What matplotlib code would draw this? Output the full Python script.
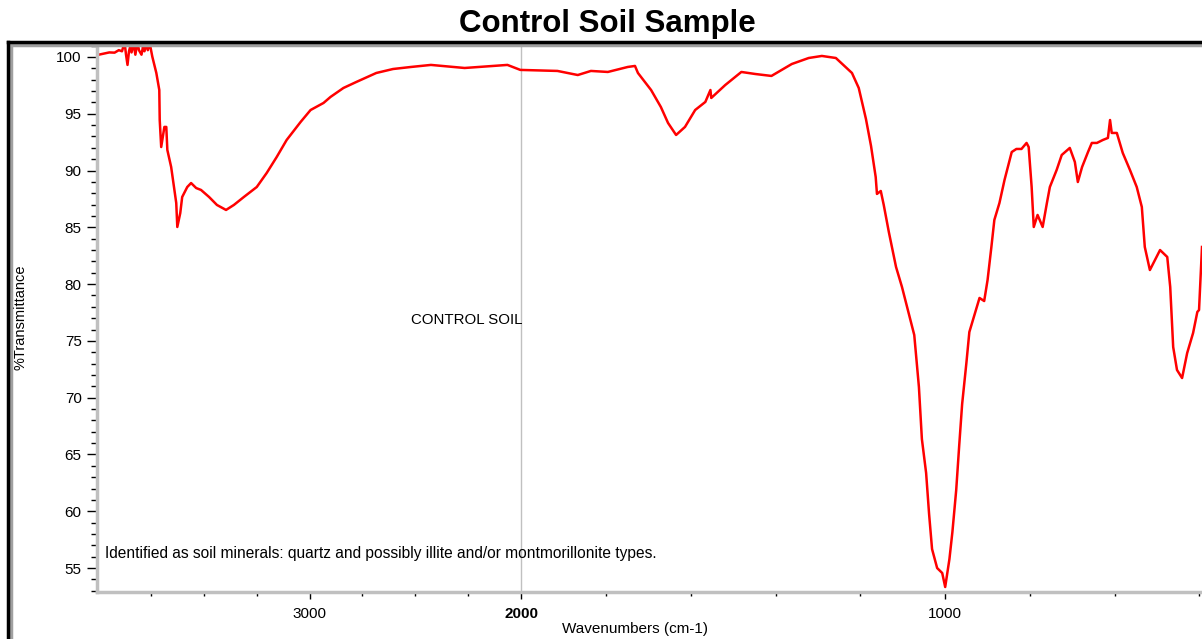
import numpy as np
import matplotlib
matplotlib.use("Agg")
import matplotlib.pyplot as plt
from matplotlib.lines import Line2D
from matplotlib.ticker import FixedLocator, MultipleLocator

plt.rcParams['font.family'] = ['Liberation Sans', 'DejaVu Sans']

# FTIR spectrum (wavenumber cm-1, %T)
wavenumber = [4000, 3970, 3945, 3920, 3900, 3885, 3873, 3866, 3859, 3852, 3845, 3840,
              3830, 3822, 3812, 3805, 3793, 3786, 3779, 3770, 3763, 3756, 3750, 3742,
              3723, 3709,
              3707, 3700, 3685, 3676, 3671, 3653, 3638, 3629, 3624, 3610, 3601, 3577,
              3559, 3535, 3512, 3474, 3437, 3394, 3357, 3310, 3249, 3202, 3155, 3108,
              3042, 2995, 2934, 2901, 2840, 2779, 2685, 2606, 2521, 2427, 2268, 2066,
              2005, 1915, 1867, 1836, 1796, 1749, 1732, 1725, 1694, 1671, 1654, 1635,
              1614, 1590, 1566, 1554, 1552, 1519, 1481, 1448, 1410, 1362, 1322, 1291,
              1258, 1220, 1204, 1187, 1175, 1164, 1161, 1152, 1145, 1133, 1116, 1102,
              1085, 1073, 1062, 1055, 1045, 1038, 1031, 1019, 1007, 1000, 990, 983,
              974, 967, 960, 950, 943, 931, 919, 908, 900, 891, 884, 872, 860, 843,
              832, 820, 808, 803, 796, 791, 782, 770, 760, 753, 737, 725, 706, 694,
              687, 677, 663, 654, 642, 628, 616, 611, 607, 595, 581, 564, 548, 536,
              529, 517, 505, 493, 476, 469, 462, 453, 441, 429, 415, 405, 401, 394]
transmittance = [100.18, 100.3, 100.4, 100.38, 100.6, 100.5, 101.3, 100.2, 99.3, 100.5,
                 101.0, 100.4, 101.2, 100.2, 101.3, 100.6, 100.2, 100.9, 100.5, 101.1,
                 100.6, 101.2, 100.8, 100.03, 98.59, 97.09,
                 94.45, 92.07, 93.84, 93.84, 91.81, 90.31, 88.29,
                 87.14, 85.03, 86.26, 87.67, 88.55, 88.90, 88.46, 88.29, 87.67, 86.97,
                 86.53, 86.97, 87.67, 88.55, 89.79, 91.19, 92.69, 94.28, 95.33, 95.95,
                 96.48, 97.27, 97.80, 98.59, 98.94, 99.12, 99.30, 99.03, 99.30, 98.86,
                 98.77, 98.41, 98.77, 98.68, 99.12, 99.21, 98.59, 97.09, 95.60, 94.19,
                 93.13, 93.84, 95.33, 96.04, 97.09, 96.39, 97.53, 98.68, 98.50, 98.33,
                 99.38, 99.91, 100.09, 99.91, 98.59, 97.27, 94.54, 92.16, 89.43, 87.94,
                 88.20, 86.97, 84.59, 81.51, 79.75, 77.28, 75.52, 70.94, 66.36, 63.37,
                 59.76, 56.67, 55.00, 54.56, 53.33, 55.79, 58.17, 61.87, 65.75, 69.44,
                 73.05, 75.78, 77.28, 78.78, 78.51, 80.36, 83.27, 85.65, 87.14, 89.17,
                 91.63, 91.90, 91.90, 92.43, 92.07, 88.55, 85.03, 86.09, 85.03, 87.14,
                 88.55, 90.05, 91.37, 91.99, 90.75, 88.99, 90.31, 91.63, 92.43, 92.43,
                 92.69, 92.87, 94.45, 93.31, 93.31, 91.55, 90.05, 88.55, 86.79, 83.27,
                 81.24, 82.12, 83.00, 82.39, 79.75, 74.46, 72.44, 71.73, 73.93, 75.70,
                 77.55, 77.72, 83.27]

x_major = [3000, 2000, 1000]
x_minor = [3750, 3500, 3250, 2750, 2500, 2250, 1800, 1600, 1400, 1200, 800, 600, 400]


# OMNIC style split axis: above 2000 cm-1 is compressed to half scale
def fwd(w):
    w = np.asarray(w, dtype=float)
    return np.where(w > 2000, 2000 + (w - 2000) * 0.5, w)


def inv(u):
    u = np.asarray(u, dtype=float)
    return np.where(u > 2000, 2000 + (u - 2000) * 2.0, u)


fig = plt.figure(figsize=(12.02, 6.39), dpi=100)
ax = fig.add_axes([97 / 1202, 1 - 592 / 639, 1 - 97 / 1202, (592 - 43) / 639])

ax.set_xscale('function', functions=(fwd, inv))
ax.plot(wavenumber, transmittance, color='#ff0000', lw=1.8)
ax.axvline(2000, color='#c0c0c0', lw=1, zorder=0)
ax.set_xlim(4003, 394)
ax.set_ylim(52.89, 101.23)

ax.xaxis.set_major_locator(FixedLocator(x_major))
ax.xaxis.set_minor_locator(FixedLocator(x_minor))
ax.set_xticklabels([str(v) for v in x_major])
ax.get_xticklabels()[1].set_fontweight('bold')
ax.yaxis.set_major_locator(MultipleLocator(5))
ax.yaxis.set_minor_locator(MultipleLocator(1))

for s in ['top', 'right']:
    ax.spines[s].set_visible(False)
for s in ['left', 'bottom']:
    ax.spines[s].set_color('#c0c0c0')
    ax.spines[s].set_linewidth(2.5)

ax.tick_params(axis='y', which='major', length=7, width=1, color='black', labelsize=11, pad=4)
ax.tick_params(axis='y', which='minor', length=4, width=1, color='black')
ax.tick_params(axis='x', which='major', length=5, width=1, color='black', labelsize=11, pad=6)
ax.tick_params(axis='x', which='minor', length=3, width=1, color='black')

ax.set_ylabel('%Transmittance', fontsize=10.5)
ax.yaxis.set_label_coords(-0.0625, 0.5)
ax.set_xlabel('Wavenumbers (cm-1)', fontsize=11)
ax.xaxis.set_label_coords(0.487, -0.055)

ax.text(2521, 76.8, 'CONTROL SOIL', fontsize=10.8, va='center', ha='left')
ax.text(3967, 56.3, 'Identified as soil minerals: quartz and possibly illite and/or '
        'montmorillonite types.', fontsize=11.2, va='center', ha='left')

fig.text(607 / 1202, 1 - 24 / 639, 'Control Soil Sample', fontsize=22.5, fontweight='bold',
         ha='center', va='center')

# outer frame with gray shadow
fx, fy = 8 / 1202, 1 - 42 / 639
fig.add_artist(Line2D([fx + 3 / 1202, 1], [fy - 3 / 639] * 2, color='#a0a0a0', lw=2.5))
fig.add_artist(Line2D([fx + 3 / 1202] * 2, [0, fy - 3 / 639], color='#a0a0a0', lw=2.5))
fig.add_artist(Line2D([fx, 1], [fy, fy], color='black', lw=2.5))
fig.add_artist(Line2D([fx, fx], [0, fy], color='black', lw=2.5))

fig.savefig('out.png', dpi=100)
